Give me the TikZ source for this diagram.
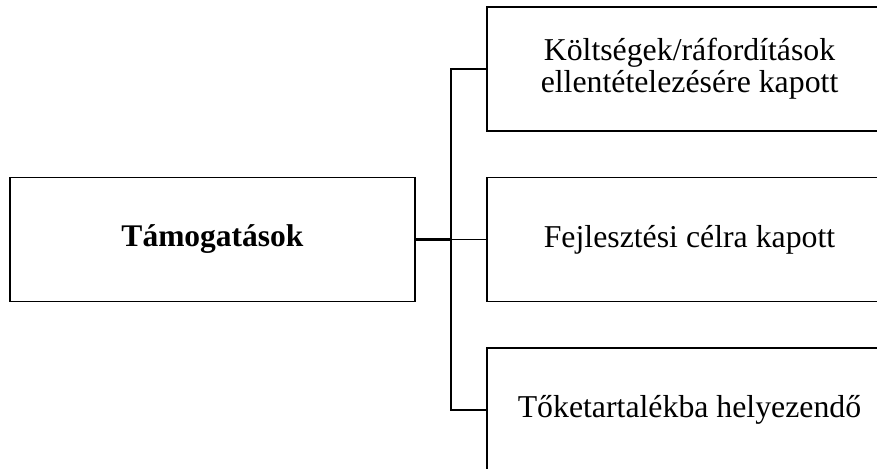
\documentclass[tikz,border=0pt]{standalone}
\usepackage{fontspec}
\setmainfont{Liberation Serif}
\usetikzlibrary{positioning}

\begin{document}
\begin{tikzpicture}[x=1pt,y=-1pt,node distance=170.5pt and 477pt,on grid,
        box/.style={draw,line width=1.4pt,minimum width=405pt,minimum height=124pt,
          align=center,font=\fontsize{31.8}{32}\selectfont}]
        \clip (0,0) rectangle (877,468);
        \node[box,font=\fontsize{31.5}{32}\selectfont\bfseries] (tam) at (212.5,239.5) {Támogatások};
        \node[box] (fejl) [right = of tam] {Fejlesztési célra kapott};
        \node[box] (kolt) [above = of fejl] {Költségek/ráfordítások\\ellentételezésére kapott};
        \node[box] (toke) [below = of fejl] {Tőketartalékba helyezendő};
        \coordinate (j) at ([xshift=35pt]tam.east);
        \draw[line width=3.5pt] (tam.east) -- (j);
        \draw[line width=1.8pt] (j) -- (fejl.west);
        \draw[line width=2pt] (kolt.west) -| (j) |- (toke.west);
      \end{tikzpicture}
\end{document}
